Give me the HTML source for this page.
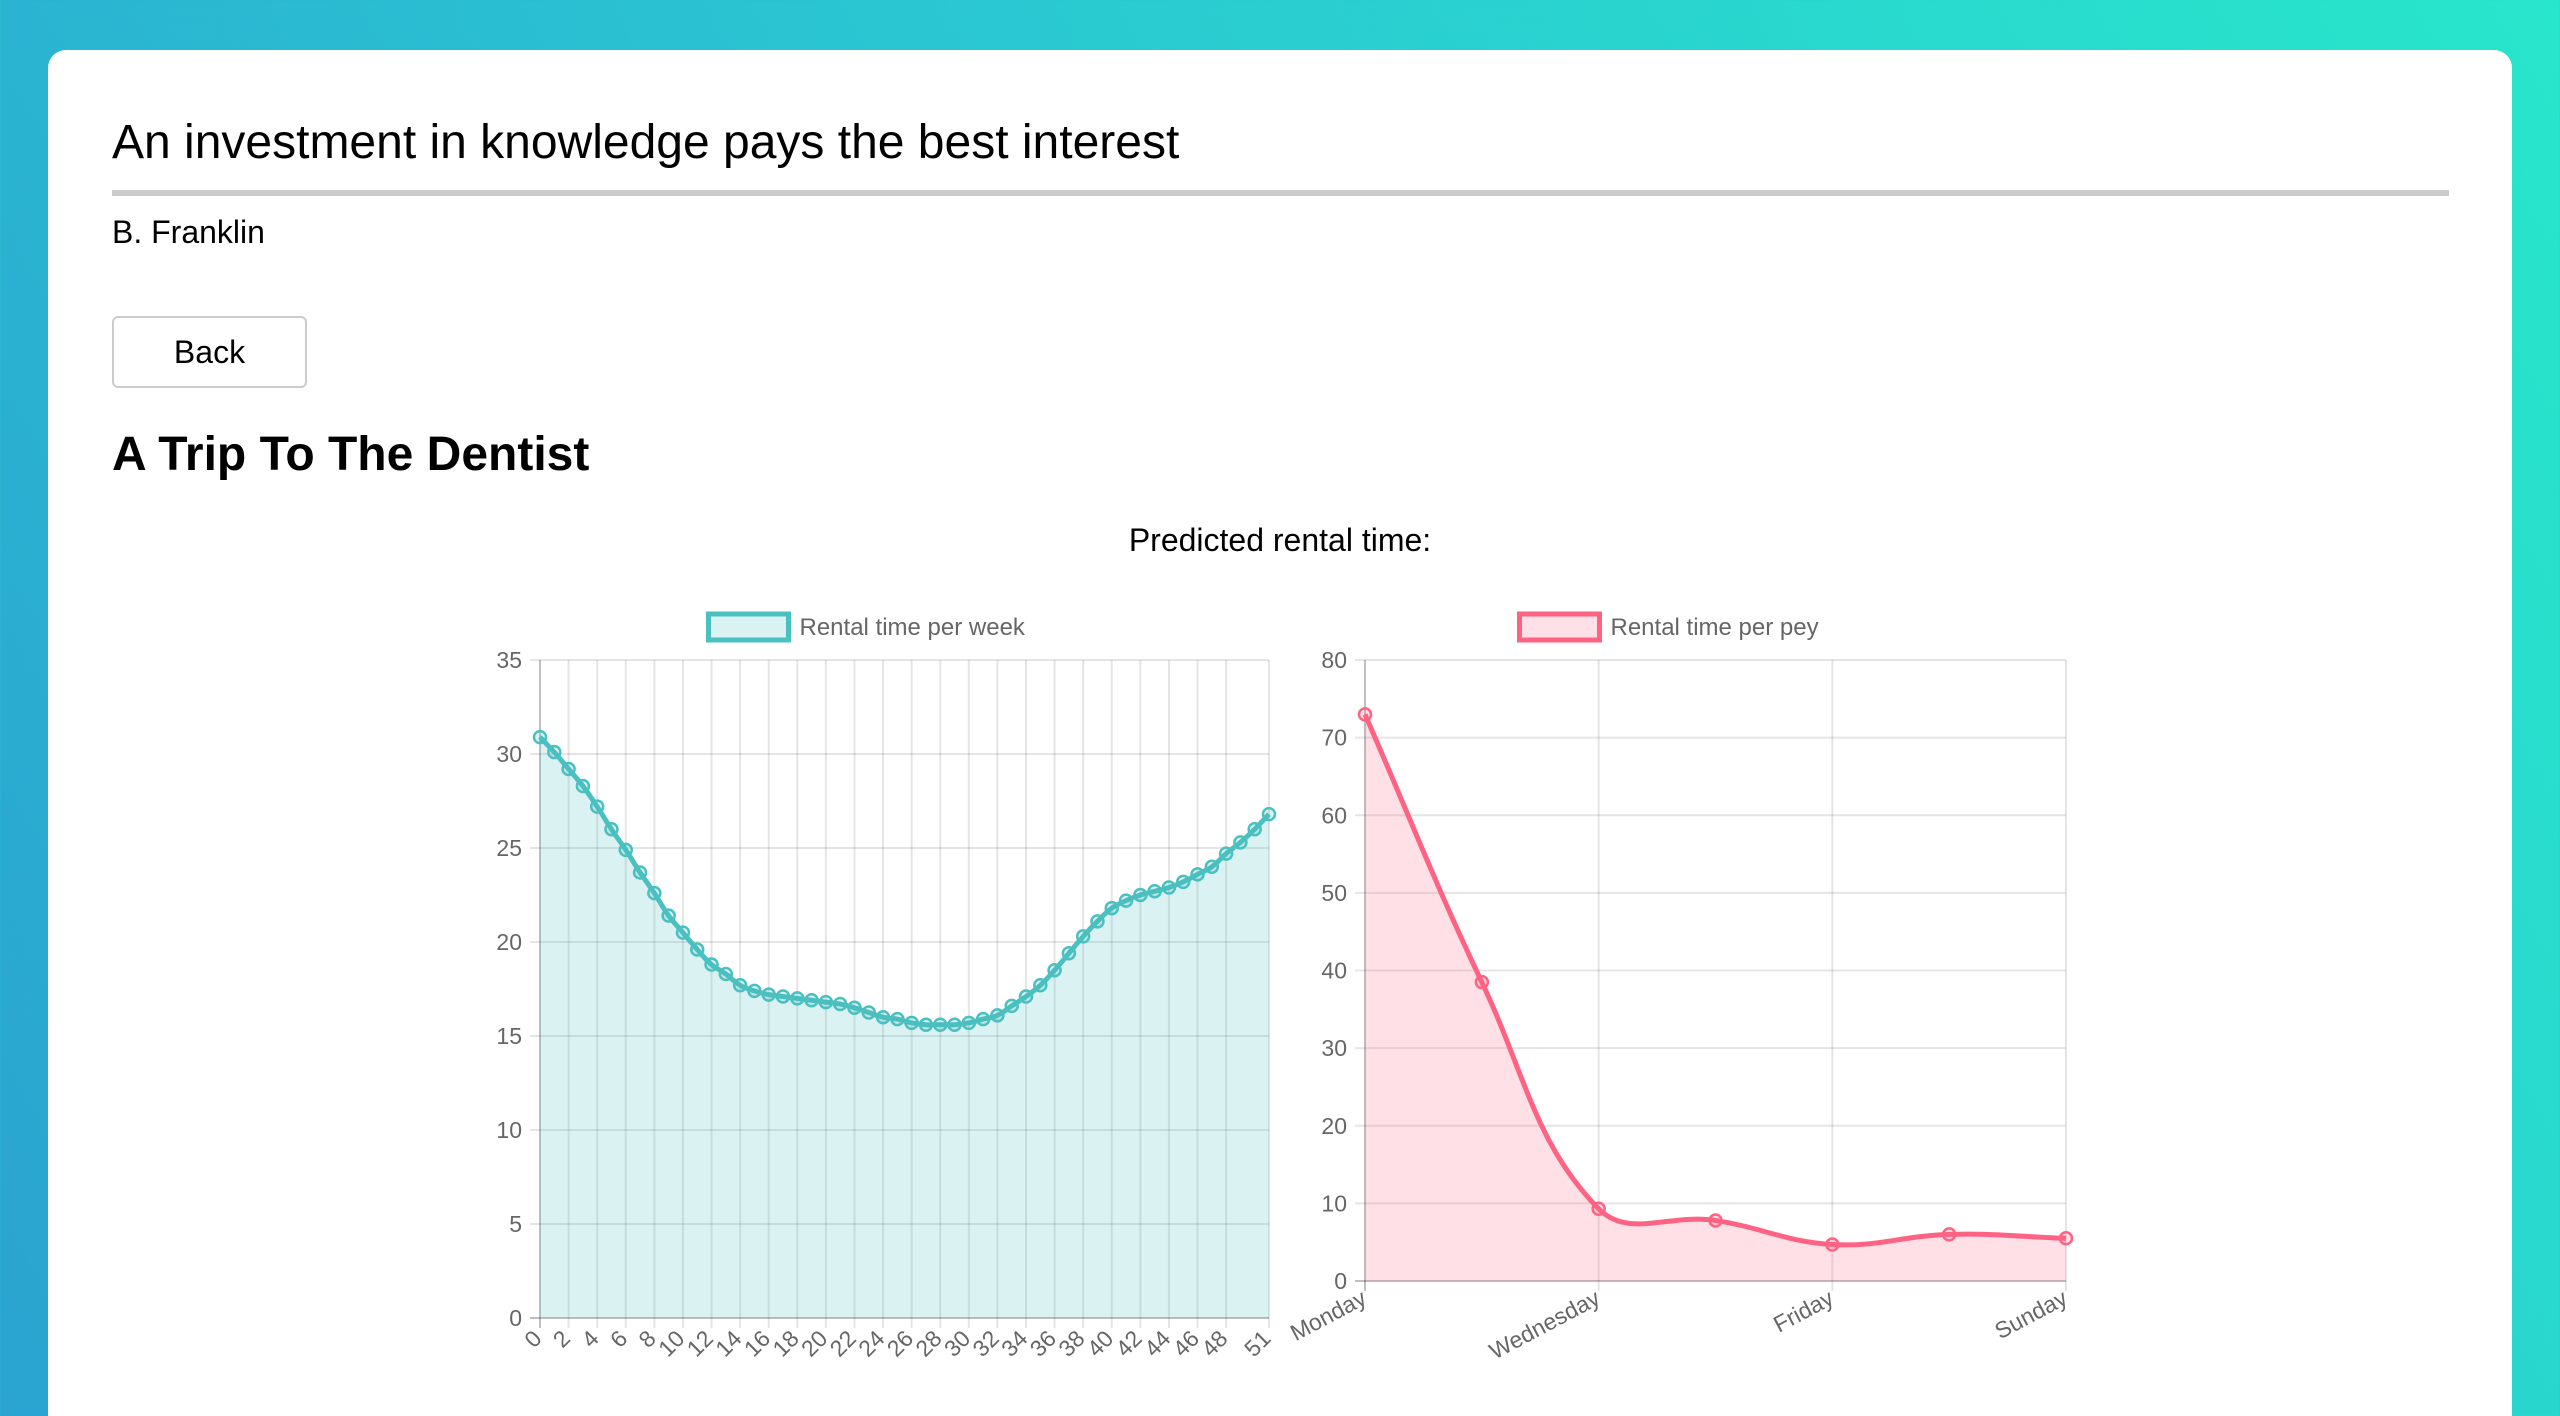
<!DOCTYPE html>
<html><head><meta charset="utf-8"><style>
html,body{margin:0;padding:0;width:2560px;height:1416px;overflow:hidden;font-family:"Liberation Sans",sans-serif;}
body{background:linear-gradient(60deg,#2aa3d0 0%,#2ac6d2 50%,#28e6cb 100%);position:relative;}
.card{position:absolute;left:48px;top:50px;width:2464px;height:1420px;background:#fff;border-radius:18px;}
.t{position:absolute;white-space:nowrap;color:#000;}
</style></head><body>
<div class="card"></div>
<div class="t" style="left:112px;top:115px;font-size:48px;">An investment in knowledge pays the best interest</div>
<div style="position:absolute;left:112px;top:190px;width:2337px;height:6px;background:#ccc;"></div>
<div class="t" style="left:112px;top:214px;font-size:32px;">B. Franklin</div>
<div style="position:absolute;left:112px;top:316px;width:191px;height:68px;border:2px solid #ccc;border-radius:6px;font-size:32px;display:flex;align-items:center;justify-content:center;">Back</div>
<div class="t" style="left:112px;top:427px;font-size:48px;font-weight:bold;">A Trip To The Dentist</div>
<div class="t" style="left:1280px;top:522px;font-size:32px;transform:translateX(-50%);">Predicted rental time:</div>
<svg id="svg" width="2560" height="1416" style="position:absolute;left:0;top:0"></svg>
<script>
const weekLabels = Array.from({length:52},(_,i)=>String(i));
const weekValues = [30.9,30.1,29.2,28.3,27.2,26.0,24.9,23.7,22.6,21.4,20.5,19.6,18.8,18.3,17.7,17.4,17.2,17.1,17.0,16.9,16.8,16.7,16.5,16.25,16.0,15.9,15.7,15.6,15.6,15.6,15.7,15.9,16.1,16.6,17.1,17.7,18.5,19.4,20.3,21.1,21.8,22.2,22.5,22.7,22.9,23.2,23.6,24.0,24.7,25.3,26.0,26.8];
const weekTicks = [0,5,10,15,20,25,30,35];
const dayLabels = ["Monday","Tuesday","Wednesday","Thursday","Friday","Saturday","Sunday"];
const dayValues = [73,38.5,9.3,7.8,4.7,6.0,5.5];
const dayTicks = [0,10,20,30,40,50,60,70,80];

const NS="http://www.w3.org/2000/svg";
const svg=document.getElementById('svg');
function mk(tag,attrs,parent){const e=document.createElementNS(NS,tag);for(const k in attrs)e.setAttribute(k,attrs[k]);(parent||svg).appendChild(e);return e;}

function spline(pts,t){
  let d='M'+pts[0][0]+','+pts[0][1];
  const cps=pts.map((p,i)=>{
    const prev=pts[Math.max(0,i-1)],next=pts[Math.min(pts.length-1,i+1)];
    const d01=Math.hypot(p[0]-prev[0],p[1]-prev[1]),d12=Math.hypot(next[0]-p[0],next[1]-p[1]);
    let fa=d01/(d01+d12)||0,fb=d12/(d01+d12)||0;fa*=t;fb*=t;
    return {p:[p[0]-fa*(next[0]-prev[0]),p[1]-fa*(next[1]-prev[1])],n:[p[0]+fb*(next[0]-prev[0]),p[1]+fb*(next[1]-prev[1])]};
  });
  for(let i=1;i<pts.length;i++){d+=' C'+cps[i-1].n.join(',')+' '+cps[i].p.join(',')+' '+pts[i].join(',');}
  return d;
}

function chart(o){
  const g=mk('g',{});
  
  
  const xs=i=>o.x0+(o.x1-o.x0)*i/(o.labels.length-1);
  const ys=v=>o.y0-(o.y0-o.y1)*v/o.max;
  o.ticks.forEach(v=>{
    const l=mk('line',{x1:o.x0-10,x2:o.x1,y1:ys(v),y2:ys(v),stroke:v===0?'rgba(0,0,0,0.25)':'rgba(0,0,0,0.1)','stroke-width':2},g);
    
    
    const t=mk('text',{x:o.x0-18,y:ys(v)+8,'text-anchor':'end','font-size':23,fill:'#666','font-family':'Liberation Sans, sans-serif'},g);
    t.textContent=v;
    
    
  });
  o.labels.forEach((lab,i)=>{
    if(!o.show(i))return;
    const x=xs(i);
    const l=mk('line',{x1:x,x2:x,y1:o.y1,y2:o.y0+10,stroke:i===0?'rgba(0,0,0,0.25)':'rgba(0,0,0,0.1)','stroke-width':2},g);
    
    
    const t=mk('text',{x:x+3,y:o.y0+22,'text-anchor':'end','font-size':23,fill:'#666','font-family':'Liberation Sans, sans-serif',transform:'rotate('+(-o.rot)+' '+(x+3)+' '+(o.y0+22)+')'},g);
    t.textContent=lab;
    
    
  });
  const pts=o.values.map((v,i)=>[xs(i),ys(v)]);
  const path=spline(pts,0.4);
  const area=mk('path',{d:path+' L'+o.x1+','+o.y0+' L'+o.x0+','+o.y0+' Z',fill:o.fill,stroke:'none'},g);
  
  
  const line=mk('path',{d:path,fill:'none',stroke:o.color,'stroke-width':5},g);
  
  
  pts.forEach(p=>{
    const c=mk('circle',{cx:p[0],cy:p[1],r:6,fill:o.fill,stroke:o.color,'stroke-width':2.5},g);
    
    
  });
  const cx=(o.x0+o.x1)/2+o.legOff;
  const lb=mk('rect',{x:cx-96,y:614,width:80,height:26,fill:o.fill,stroke:o.color,'stroke-width':5},g);
  
  
  const lt=mk('text',{x:cx-5,y:635,'font-size':24,fill:'#666','font-family':'Liberation Sans, sans-serif'},g);
  lt.textContent=o.legend;
  
  
}
chart({name:'weekly-chart',labels:weekLabels,values:weekValues,ticks:weekTicks,max:35,x0:540,x1:1269,y0:1318,y1:660,color:'#4bc0c0',fill:'rgba(75,192,192,0.2)',legend:'Rental time per week',legOff:-100,rot:45,show:i=>(i%2===0&&i<=48)||i===51});
chart({name:'daily-chart',labels:dayLabels,values:dayValues,ticks:dayTicks,max:80,x0:1365,x1:2066,y0:1281,y1:660,color:'#ff6384',fill:'rgba(255,99,132,0.2)',legend:'Rental time per pey',legOff:-100,rot:28,show:i=>i%2===0});
</script>
</body></html>
